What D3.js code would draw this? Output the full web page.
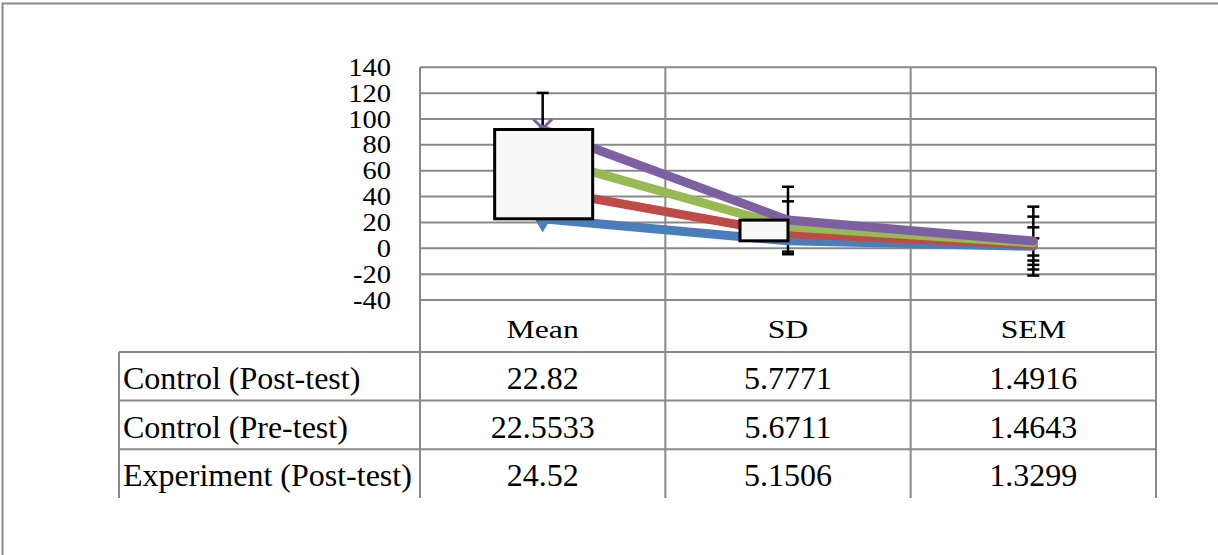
<!DOCTYPE html>
<html>
<head>
<meta charset="utf-8">
<script src="https://cdn.jsdelivr.net/npm/d3@7"></script>
<style>
  html, body { margin: 0; padding: 0; background: #fff; }
  svg { display: block; }
</style>
</head>
<body>
<script>
// ---- data ----
const categories = ["Mean", "SD", "SEM"];
const seriesNames = ["Control (Post-test)", "Control (Pre-test)", "Experiment (Post-test)", "Experiment (Pre-test)"];
const controlPost = [22.82, 5.7771, 1.4916];
const controlPre = [22.5533, 5.6711, 1.4643];
const experimentPost = [24.52, 5.1506, 1.3299];
const experimentPre = [22.0, 5.2, 1.35]; // estimated from the plot (row not visible in table)
const tableLabels = ["22.82", "5.7771", "1.4916", "22.5533", "5.6711", "1.4643", "24.52", "5.1506", "1.3299"];
const yTicks = [-40, -20, 0, 20, 40, 60, 80, 100, 120, 140];
const seriesColors = ["#4a7ebb", "#be4b48", "#98b954", "#7d60a0"];
const capsMean = [120.2];
const capsSD = [47.6, 36.3, -2.6, -4.6];
const capsSEM = [32.2, 24.5, 16.2, 7.7, -5.6, -9.5, -12.8, -16.4, -21.1];

const seriesValues = [controlPost, controlPre, experimentPost, experimentPre];
const tableRows = 3; // rows visible in data table
const errorCaps = [capsMean, capsSD, capsSEM];

// stacked cumulative values
const stacked = [];
seriesValues.forEach((vals, i) => {
  stacked.push(vals.map((v, j) => v + (i > 0 ? stacked[i - 1][j] : 0)));
});

const W = 1218, H = 555;
const FONT = "'Liberation Serif', 'Times New Roman', Times, serif";
const svg = d3.select("body").append("svg").attr("width", W).attr("height", H)
  .attr("font-family", FONT);

const grid = "#898989";
// outer frame
svg.append("path").attr("d", `M2.5,${H} V3.5 H${W}`).attr("fill", "none").attr("stroke", grid).attr("stroke-width", 2);

const x = d3.scaleBand().domain(categories).range([420, 1156]).padding(0);
const y = d3.scaleLinear().domain([-40, 140]).range([300, 67.3]);
const cx = c => x(c) + x.bandwidth() / 2;

// horizontal gridlines
svg.append("g").selectAll("line").data(yTicks).join("line")
  .attr("x1", 420).attr("x2", 1156)
  .attr("y1", d => y(d)).attr("y2", d => y(d))
  .attr("stroke", grid).attr("stroke-width", 2);

// vertical lines (plot + table columns)
const colEdges = [420].concat(categories.map(c => x(c) + x.bandwidth()));
svg.append("g").selectAll("line").data(colEdges).join("line")
  .attr("x1", d => d).attr("x2", d => d)
  .attr("y1", y(140)).attr("y2", 498)
  .attr("stroke", grid).attr("stroke-width", 2);

// table horizontal lines
const rowTop = 352, rowH = 48.6;
svg.append("g").selectAll("line").data(d3.range(tableRows)).join("line")
  .attr("x1", 119).attr("x2", 1156)
  .attr("y1", d => rowTop + d * rowH).attr("y2", d => rowTop + d * rowH)
  .attr("stroke", grid).attr("stroke-width", 2);
svg.append("line").attr("x1", 119).attr("x2", 119).attr("y1", rowTop).attr("y2", 498)
  .attr("stroke", grid).attr("stroke-width", 2);

// y axis labels
svg.append("g").selectAll("text").data(yTicks).join("text")
  .attr("transform", d => `translate(391,${y(d) + 8.5}) scale(1.14,1)`)
  .attr("text-anchor", "end").attr("font-size", 25).attr("font-family", FONT)
  .text(d => d);

// category headers
svg.append("g").selectAll("text").data(categories).join("text")
  .attr("transform", c => `translate(${cx(c)},337.7) scale(1.27,1)`)
  .attr("text-anchor", "middle").attr("font-size", 25).attr("font-family", FONT)
  .text(c => c);

// table row labels and values
for (let r = 0; r < tableRows; r++) {
  const by = rowTop + r * rowH + 37.2;
  svg.append("text").attr("x", 123).attr("y", by).attr("font-size", 32)
    .attr("font-family", FONT).text(seriesNames[r]);
  categories.forEach((c, j) => {
    svg.append("text").attr("x", cx(c)).attr("y", by).attr("text-anchor", "middle")
      .attr("font-size", 32).attr("font-family", FONT).text(tableLabels[r * 3 + j]);
  });
}

// error bars
const eb = svg.append("g").attr("stroke", "#000").attr("stroke-width", 2.5);
categories.forEach((c, j) => {
  const caps = errorCaps[j];
  let top = d3.max(caps), bot = d3.min(caps);
  if (caps.length === 1) bot = stacked[3][j];
  eb.append("line").attr("x1", cx(c)).attr("x2", cx(c)).attr("y1", y(top)).attr("y2", y(bot));
  caps.forEach(v => {
    eb.append("line").attr("x1", cx(c) - 6).attr("x2", cx(c) + 6).attr("y1", y(v)).attr("y2", y(v));
  });
});

// markers (partly hidden by up/down bars)
const mk = svg.append("g");
mk.append("path")
  .attr("d", d3.symbol().type(d3.symbolTriangle).size(180)())
  .attr("transform", `translate(${cx("Mean")},${y(stacked[0][0]) + 2}) rotate(180)`)
  .attr("fill", seriesColors[0]);
mk.append("path")
  .attr("d", d3.symbol().type(d3.symbolX).size(240)())
  .attr("transform", `translate(${cx("Mean")},${y(stacked[3][0]) - 1})`)
  .attr("fill", "none").attr("stroke", seriesColors[3]).attr("stroke-width", 3);

// lines
const line = d3.line().x((d, j) => cx(categories[j])).y(d => y(d));
svg.append("g").selectAll("path").data(stacked).join("path")
  .attr("d", d => line(d))
  .attr("fill", "none")
  .attr("stroke", (d, i) => seriesColors[i])
  .attr("stroke-width", 9)
  .attr("stroke-linecap", "round").attr("stroke-linejoin", "round");

// up/down bars between first and last series
const barSpec = [{ left: -48, right: 50 }, { left: -48, right: 0 }];
barSpec.forEach((b, j) => {
  const c = categories[j];
  const yTop = y(stacked[3][j]), yBot = y(stacked[0][j]);
  svg.append("rect")
    .attr("x", cx(c) + b.left).attr("width", b.right - b.left)
    .attr("y", Math.min(yTop, yBot)).attr("height", Math.abs(yBot - yTop))
    .attr("fill", "#f8f8f8").attr("stroke", "#000").attr("stroke-width", 3);
});
</script>
</body>
</html>
